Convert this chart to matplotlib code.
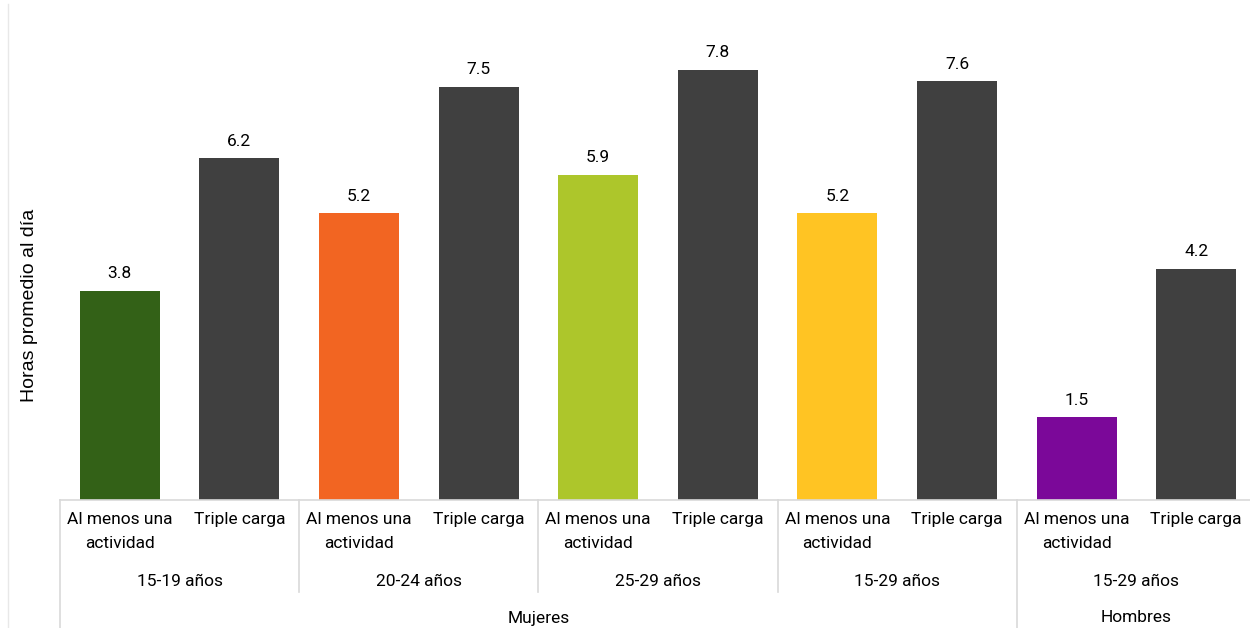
import matplotlib
matplotlib.use("Agg")
import matplotlib.pyplot as plt
from matplotlib.lines import Line2D

# Data
categories = ["Al menos una\nactividad", "Triple carga"] * 5
age_groups = ["15-19 años", "20-24 años", "25-29 años", "15-29 años", "15-29 años"]
sex_groups = ["Mujeres", "Hombres"]
sex_spans = [4, 1]  # number of age groups per sex
values = [3.8, 6.2, 5.2, 7.5, 5.9, 7.8, 5.2, 7.6, 1.5, 4.2]
colors = ["#336117", "#404040", "#F26522", "#404040", "#ADC62B",
          "#404040", "#FFC423", "#404040", "#7B0899", "#404040"]

W, H = 1250, 628
fig = plt.figure(figsize=(W / 100, H / 100), dpi=100)
ax = fig.add_axes([60 / W, 1 - 500 / H, (1256 - 60) / W, 500 / H])

x = list(range(len(values)))
ax.bar(x, values, width=0.67, color=colors)
ax.set_xlim(-0.5, len(values) - 0.5)
ax.set_ylim(0, 500 / 55.1)

for xi, v in zip(x, values):
    ax.annotate(f"{v:.1f}", (xi, v), xytext=(0, 7), textcoords="offset points",
                ha="center", va="bottom", fontsize=12.5, family="Roboto", color="#000000")

for s in ["top", "right", "left"]:
    ax.spines[s].set_visible(False)
ax.spines["bottom"].set_color("#d9d9d9")
ax.spines["bottom"].set_linewidth(1.2)
ax.set_yticks([])
ax.set_xticks([])

tr = ax.get_xaxis_transform()
ph = 500.0  # axes height in pixels

def yfrac(py):
    # pixel row in the image -> axes fraction
    return (500 - py) / ph

# category labels
for xi, c in zip(x, categories):
    ax.text(xi, yfrac(512), c, transform=tr, ha="center", va="top",
            fontsize=12.5, family="Roboto", linespacing=1.75, clip_on=False)

# age group labels and separators
for g, name in enumerate(age_groups):
    ax.text(2 * g + 0.5, yfrac(582), name, transform=tr, ha="center", va="center",
            fontsize=12.5, family="Roboto", clip_on=False)

start = 0
for name, span in zip(sex_groups, sex_spans):
    lo = start * 2 - 0.5
    hi = (start + span) * 2 - 0.5
    ax.text((lo + hi) / 2, yfrac(618), name, transform=tr, ha="center", va="center",
            fontsize=12.5, family="Roboto", clip_on=False)
    ax.add_line(Line2D([lo, lo], [0, yfrac(640)], transform=tr, color="#d9d9d9",
                       lw=1.2, clip_on=False))
    for k in range(1, span):
        b = (start + k) * 2 - 0.5
        ax.add_line(Line2D([b, b], [0, yfrac(592)], transform=tr, color="#d9d9d9",
                           lw=1.2, clip_on=False))
    start += span

fig.text(30 / W, 1 - 305 / H, "Horas promedio al día", rotation=90, ha="center",
         va="center", fontsize=14, family="Liberation Sans")

# faint frame line on the left
fig.add_artist(Line2D([7.5 / W, 7.5 / W], [0, 1 - 4 / H], transform=fig.transFigure,
                      color="#e8e8e8", lw=1))

fig.savefig("out.png", dpi=100)
